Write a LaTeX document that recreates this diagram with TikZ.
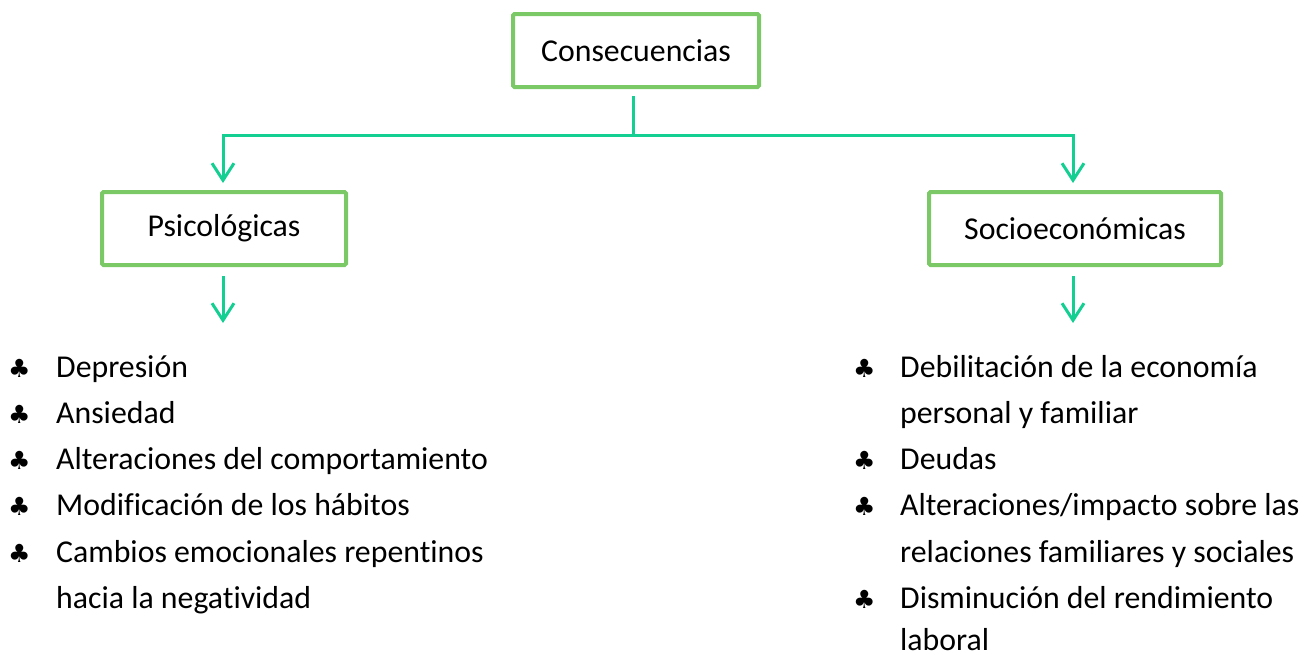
\documentclass[tikz,border=0pt]{standalone}
\usepackage{fontspec}
\setmainfont[Ligatures=NoCommon]{Carlito}
\newfontfamily\symfont{DejaVu Sans}
\usetikzlibrary{arrows.meta,calc}
\definecolor{boxgreen}{RGB}{122,201,102}
\definecolor{linegreen}{RGB}{20,207,146}
\begin{document}
\begin{tikzpicture}[x=1pt,y=-1pt,
  catbox/.style={draw=boxgreen,line width=4pt,rounded corners=1.5pt,fill=white,
    minimum height=73pt,inner sep=0pt,font=\fontsize{31.8}{38}\selectfont},
  conn/.style={draw=linegreen,line width=3pt},
  arr/.style={conn,-{Straight Barb[length=17pt,width=22pt,line width=3pt]}},
  item/.style={anchor=base west,inner sep=0pt,font=\fontsize{31.8}{38}\selectfont},
  club/.style={anchor=base west,inner sep=0pt,font=\symfont\fontsize{25}{30}\selectfont}
]
\useasboundingbox (0,0) rectangle (1315,654);
\node[catbox,minimum width=246pt] (top) at (636,50.5) {Consecuencias};
\node[catbox,minimum width=244pt] (psi) at (224,228.5) {Psicológicas};
\node[catbox,minimum width=292pt] (soc) at (1075,228.5) {Socioeconómicas};
\coordinate (j) at (633,135);
\coordinate (pe) at (223,323);
\coordinate (se) at (1073,323);
\draw[conn] ($(top.south -| j)+(0,7)$) -- (j);
\draw[arr] (j) -| ($(psi.north -| pe)+(0,-7)$);
\draw[arr] (j) -| ($(soc.north -| se)+(0,-7)$);
\draw[arr] ($(psi.south -| pe)+(0,9)$) -- (pe);
\draw[arr] ($(soc.south -| se)+(0,9)$) -- (se);
% left list
\foreach \y/\t [count=\i] in {377/Depresión,423.3/Ansiedad,469.6/Alteraciones del comportamiento,515.9/Modificación de los hábitos,562.2/Cambios emocionales repentinos}{
  \node[club] (lc\i) at (8,\y) {♣};
  \node[item] (lt\i) at (56,\y) {\t};
}
\node[item] (lt6) at (56,608.5) {hacia la negatividad};
% right list
\node[club] (rc1) at (853,377) {♣};
\node[item] (rt1) at (900,377) {Debilitación de la economía};
\node[item] (rt2) at (900,423.3) {personal y familiar};
\node[club] (rc2) at (853,469.6) {♣};
\node[item] (rt3) at (900,469.6) {Deudas};
\node[club] (rc3) at (853,515.9) {♣};
\node[item] (rt4) at (900,515.9) {Alteraciones/impacto sobre las};
\node[item] (rt5) at (900,562.2) {relaciones familiares y sociales};
\node[club] (rc4) at (853,608.5) {♣};
\node[item] (rt6) at (900,608.5) {Disminución del rendimiento};
\node[item] (rt7) at (900,650.5) {laboral};
\end{tikzpicture}
\end{document}
